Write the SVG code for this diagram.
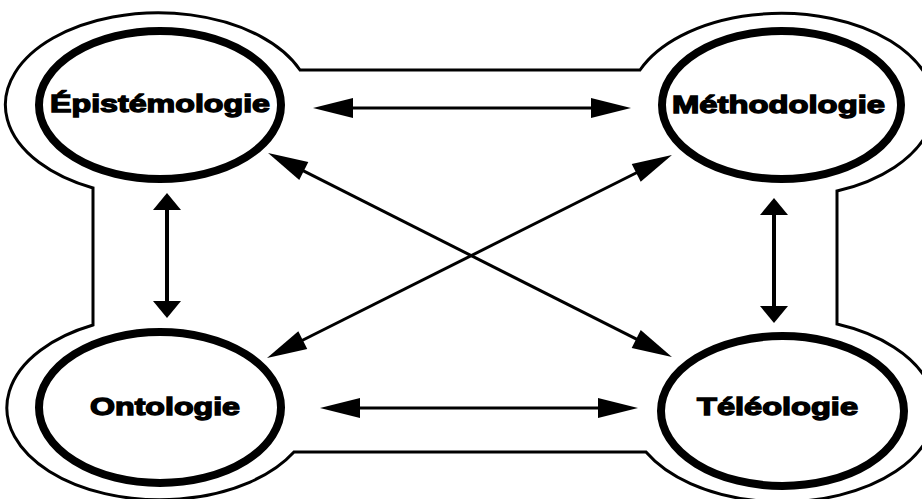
<svg xmlns="http://www.w3.org/2000/svg" width="922" height="499" viewBox="0 0 922 499">
  <style>
    .frame { fill: none; stroke: #000; stroke-width: 3; stroke-linejoin: miter; }
    .ring { fill: #fff; stroke: #000; stroke-width: 8; }
    .label { font-family: "Liberation Sans", Arial, Helvetica, sans-serif; font-weight: 700; font-size: 24px; fill: #000; stroke: #000; stroke-width: 1.3; }
    .link { fill: none; stroke: #000; stroke-width: 3; }
    .link.v { stroke-width: 4; }
  </style>
  <defs>
    <!-- long narrow head for horizontal and diagonal links -->
    <marker id="headLong" markerUnits="userSpaceOnUse" markerWidth="44" markerHeight="24" refX="2" refY="10" orient="auto-start-reverse" overflow="visible">
      <path d="M0,0 L40,10 L0,20 Z" fill="#000"/>
    </marker>
    <!-- short wide head for vertical links -->
    <marker id="headWide" markerUnits="userSpaceOnUse" markerWidth="20" markerHeight="30" refX="2" refY="14" orient="auto-start-reverse" overflow="visible">
      <path d="M0,0 L17,14 L0,28 Z" fill="#000"/>
    </marker>
  </defs>

  <rect width="922" height="499" fill="#fff"/>

  <!-- outer rounded frame wrapping the four concepts -->
  <path class="frame" d="M300,70 H640 A153,92 0 1 1 837,191 V324 A153,92 0 1 1 646,452 H294 A153,92 0 1 1 93,325 V188 A153,92 0 1 1 300,70 Z"/>

  <!-- connectors -->
  <g id="connectors">
    <line class="link" x1="351" y1="108" x2="593" y2="108" marker-start="url(#headLong)" marker-end="url(#headLong)"/>
    <line class="link" x1="358" y1="408" x2="600" y2="408" marker-start="url(#headLong)" marker-end="url(#headLong)"/>
    <line class="link v" x1="167" y1="208" x2="167" y2="303" marker-start="url(#headWide)" marker-end="url(#headWide)"/>
    <line class="link v" x1="774" y1="213" x2="774" y2="308" marker-start="url(#headWide)" marker-end="url(#headWide)"/>
    <line class="link" x1="302" y1="170.1" x2="638" y2="339.9" marker-start="url(#headLong)" marker-end="url(#headLong)"/>
    <line class="link" x1="638" y1="172" x2="301" y2="341" marker-start="url(#headLong)" marker-end="url(#headLong)"/>
  </g>

  <g id="epistemologie">
    <ellipse class="ring" cx="160" cy="105" rx="121" ry="74"/>
    <text class="label" x="50" y="112" textLength="220" lengthAdjust="spacingAndGlyphs">Épistémologie</text>
  </g>

  <g id="methodologie">
    <ellipse class="ring" cx="781.5" cy="105" rx="119.5" ry="74"/>
    <text class="label" x="672" y="113" textLength="213" lengthAdjust="spacingAndGlyphs">Méthodologie</text>
  </g>

  <g id="ontologie">
    <ellipse class="ring" cx="160" cy="407.5" rx="121" ry="75.5"/>
    <text class="label" x="90" y="415" textLength="150" lengthAdjust="spacingAndGlyphs">Ontologie</text>
  </g>

  <g id="teleologie">
    <ellipse class="ring" cx="782.5" cy="411" rx="121.5" ry="75"/>
    <text class="label" x="697" y="415" textLength="161" lengthAdjust="spacingAndGlyphs">Téléologie</text>
  </g>
</svg>
